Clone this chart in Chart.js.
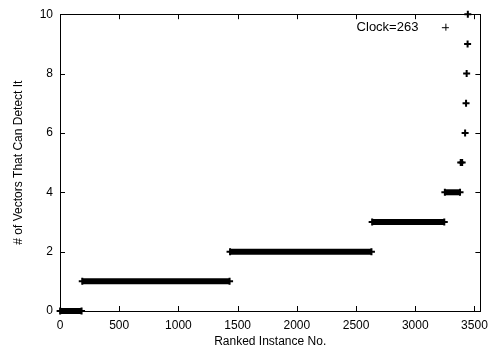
<!DOCTYPE html>
<html>
<head>
<meta charset="utf-8">
<script src="https://cdn.jsdelivr.net/npm/chart.js@4/dist/chart.umd.min.js"></script>
<style>
  body { margin: 0; background: #fff; }
  #wrap { width: 495px; height: 352px; }
</style>
</head>
<body>
<div id="wrap"><canvas id="myChart" width="495" height="352"></canvas></div>
<script>
// runs of ranked instances sharing the same count
const runValue = [0, 1, 2, 3, 4, 5, 6, 7, 8, 9, 10];
const runStart = [1, 188, 1436, 2636, 3250, 3384, 3421, 3429, 3434, 3442, 3444];
const runEnd   = [182, 1432, 2630, 3245, 3378, 3396, 3421, 3429, 3434, 3442, 3444];

const xTicks = [0, 500, 1000, 1500, 2000, 2500, 3000, 3500];
const yTicks = [0, 2, 4, 6, 8, 10];
const legendLabel = 'Clock=263';

Chart.defaults.font.family = "'Liberation Sans', Arial, sans-serif";
Chart.defaults.font.size = 12;
Chart.defaults.color = '#000';

var datasets = runValue.map((v, i) => ({
    label: legendLabel,
    data: runStart[i] === runEnd[i]
        ? [{x: runStart[i], y: v}]
        : [{x: runStart[i], y: v}, {x: runEnd[i], y: v}],
    borderColor: '#000',
    backgroundColor: '#000',
    borderWidth: 6,
    borderCapStyle: 'butt',
    pointStyle: 'cross',
    pointRadius: 3.5,
    pointBorderWidth: 2,
    pointHoverRadius: 3.5,
    showLine: true,
    clip: false
}));

// gnuplot style border with inward ticks on all four sides
const frameTicks = {
    id: 'frameTicks',
    beforeDatasetsDraw(chart) {
        const ctx = chart.ctx;
        const a = chart.chartArea;
        const xs = chart.scales.x, ys = chart.scales.y;
        const len = 5;
        ctx.save();
        ctx.strokeStyle = '#000';
        ctx.lineWidth = 1;
        ctx.beginPath();
        xTicks.forEach(t => {
            const px = Math.round(xs.getPixelForValue(t)) + 0.5;
            ctx.moveTo(px, a.bottom); ctx.lineTo(px, a.bottom - len);
            ctx.moveTo(px, a.top); ctx.lineTo(px, a.top + len);
        });
        yTicks.forEach(t => {
            const py = Math.round(ys.getPixelForValue(t)) + 0.5;
            ctx.moveTo(a.left, py); ctx.lineTo(a.left + len, py);
            ctx.moveTo(a.right, py); ctx.lineTo(a.right - len, py);
        });
        ctx.stroke();
        ctx.strokeRect(Math.round(a.left) + 0.5, Math.round(a.top) + 0.5,
            Math.round(a.right - a.left), Math.round(a.bottom - a.top));
        ctx.restore();
    },
    afterDraw(chart) {
        // key in the top right corner: text then sample marker
        const ctx = chart.ctx;
        const a = chart.chartArea;
        const mx = a.right - 35, my = a.top + 13;
        ctx.save();
        ctx.font = "13px 'Liberation Sans', Arial, sans-serif";
        ctx.fillStyle = '#000';
        ctx.textAlign = 'right';
        ctx.textBaseline = 'middle';
        ctx.fillText(legendLabel, mx - 27, my);
        ctx.strokeStyle = '#000';
        ctx.lineWidth = 1;
        ctx.beginPath();
        ctx.moveTo(mx - 3.5, my + 0.5); ctx.lineTo(mx + 3.5, my + 0.5);
        ctx.moveTo(mx + 0.5, my - 3.5); ctx.lineTo(mx + 0.5, my + 3.5);
        ctx.stroke();
        ctx.restore();
    }
};

var ctx = document.getElementById('myChart').getContext('2d');
var myChart = new Chart(ctx, {
    type: 'line',
    data: { datasets: datasets },
    options: {
        responsive: false,
        animation: false,
        layout: { padding: { left: 0, right: 13, top: 14, bottom: 0 } },
        plugins: { legend: { display: false }, tooltip: { enabled: false } },
        scales: {
            x: {
                type: 'linear',
                min: 0,
                max: 3550,
                afterBuildTicks: s => { s.ticks = xTicks.map(v => ({value: v})); },
                afterFit: s => { s.height = 41; },
                grid: { display: false, drawTicks: false },
                border: { display: false },
                ticks: { padding: 7, maxRotation: 0, callback: v => String(v) },
                title: { display: true, text: 'Ranked Instance No.', padding: { top: 0, bottom: 3 } }
            },
            y: {
                type: 'linear',
                min: 0,
                max: 10,
                afterBuildTicks: s => { s.ticks = yTicks.map(v => ({value: v})); },
                afterFit: s => { s.width = 60; },
                grid: { display: false, drawTicks: false },
                border: { display: false },
                ticks: { padding: 7, callback: v => String(v) },
                title: { display: true, text: '# of Vectors That Can Detect It', padding: { top: 11, bottom: 0 } }
            }
        }
    },
    plugins: [frameTicks]
});
</script>
</body>
</html>
